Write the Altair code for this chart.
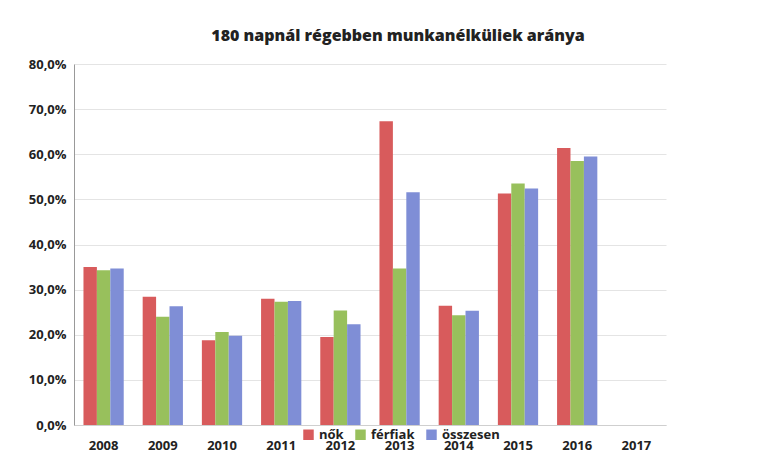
import altair as alt
import pandas as pd

years = ["2008", "2009", "2010", "2011", "2012", "2013", "2014", "2015", "2016", "2017"]
series = ["nők", "férfiak", "összesen"]
nok = [35.0, 28.4, 18.8, 28.0, 19.5, 67.3, 26.4, 51.3, 61.4, None]
ferfiak = [34.3, 24.0, 20.6, 27.3, 25.4, 34.7, 24.3, 53.5, 58.5, None]
osszesen = [34.7, 26.3, 19.8, 27.5, 22.3, 51.6, 25.3, 52.4, 59.5, None]
colors = ["#D85B5C", "#98C05C", "#7F8ED6"]

rows = []
for name, vals in zip(series, [nok, ferfiak, osszesen]):
    for y, v in zip(years, vals):
        rows.append({"ev": y, "sorozat": name, "ertek": None if v is None else v / 100})
df = pd.DataFrame(rows)

font = "Open Sans"

chart = alt.Chart(df).mark_bar().encode(
    x=alt.X("ev:N", sort=years, title=None,
            scale=alt.Scale(domain=years, paddingInner=0.32, paddingOuter=0.16),
            axis=alt.Axis(labelAngle=0, labelFont=font, labelFontWeight="bold",
                          labelFontSize=13, labelColor="#222", labelPadding=14,
                          ticks=False, domainColor="#cfcfcf")),
    xOffset=alt.XOffset("sorozat:N", sort=series, scale=alt.Scale(domain=series)),
    y=alt.Y("ertek:Q", title=None,
            scale=alt.Scale(domain=[0, 0.8]),
            axis=alt.Axis(values=[0, 0.1, 0.2, 0.3, 0.4, 0.5, 0.6, 0.7, 0.8],
                          labelExpr="replace(format(datum.value, '.1%'), '.', ',')",
                          labelFont=font, labelFontWeight="bold", labelFontSize=13,
                          labelColor="#222", labelPadding=8, ticks=False,
                          domainColor="#999", gridColor="#e4e4e4")),
    color=alt.Color("sorozat:N", sort=series,
                    scale=alt.Scale(domain=series, range=colors),
                    legend=alt.Legend(title=None, orient="none", direction="horizontal",
                                      legendX=228, legendY=364, symbolType="square",
                                      symbolSize=110, labelFont=font, labelFontSize=13,
                                      labelFontWeight="bold", labelColor="#222",
                                      columnPadding=10, symbolStrokeWidth=0)),
).properties(
    width=592, height=361,
    title=alt.TitleParams("180 napnál régebben munkanélküliek aránya",
                          font=font, fontSize=16, fontWeight=800,
                          color="#222", offset=14, dx=28),
    autosize=alt.AutoSizeParams(type="none"),
    padding={"left": 66, "top": 56, "right": 10, "bottom": 30},
).configure_view(stroke=None)

chart.save("out.html", embed_options={"renderer": "svg", "actions": False})
